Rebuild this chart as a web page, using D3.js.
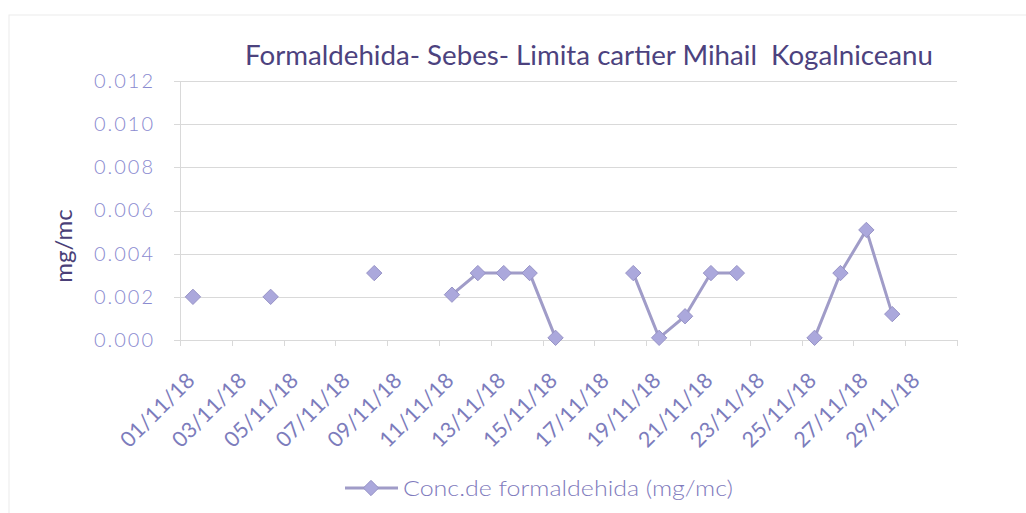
<!DOCTYPE html>
<html lang="ro">
	<head>
		<meta charset="utf-8">
		<title>Formaldehida - Sebes</title>
		<script type="text/javascript" src="https://cdn.jsdelivr.net/npm/d3@7"></script>
		<style type="text/css">
			body { margin: 0; background: #fff; }
			.grid line { stroke: #d9d9d9; shape-rendering: crispEdges; }
			.ylab text { font-family: Lato, sans-serif; font-weight: 300; font-size: 20px; letter-spacing: 2px; fill: #8a8ad0; }
			.xlab text { font-family: Lato, sans-serif; font-size: 21.5px; fill: #7c7cbc; }
		</style>
	</head>
	<body>
		<script type="text/javascript">

			// days of November 2018 with a measurement, and the measured values (mg/mc)
			var obsDays = [1, 4, 8, 11, 12, 13, 14, 15, 18, 19, 20, 21, 22, 25, 26, 27, 28];
			var conc = [0.002, 0.002, 0.0031, 0.0021, 0.0031, 0.0031, 0.0031, 0.0001, 0.0031, 0.0001,
						0.0011, 0.0031, 0.0031, 0.0001, 0.0031, 0.0051, 0.0012];
			var allDays = d3.range(1, 31);		// category axis, one slot per day
			var tickLabels = ["01/11/18", "03/11/18", "05/11/18", "07/11/18", "09/11/18", "11/11/18",
							  "13/11/18", "15/11/18", "17/11/18", "19/11/18", "21/11/18", "23/11/18",
							  "25/11/18", "27/11/18", "29/11/18"];
			var labelDays = [1, 3, 5, 7, 9, 11, 13, 15, 17, 19, 21, 23, 25, 27, 29];
			var yTicks = [0, 0.002, 0.004, 0.006, 0.008, 0.010, 0.012];

			var W = 1026, H = 513;
			var pLeft = 180, pRight = 957, pTop = 81, pBottom = 340;

			var svg = d3.select("body").append("svg")
				.attr("width", W)
				.attr("height", H);

			// faint chart border from the scan
			svg.append("rect")
				.attr("x", 9).attr("y", 15)
				.attr("width", W).attr("height", H)
				.attr("fill", "none")
				.attr("stroke", "#ececec");

			var x = d3.scaleBand().domain(allDays).range([pLeft, pRight]);
			var y = d3.scaleLinear().domain([0, 0.012]).range([pBottom, pTop]);

			// horizontal gridlines
			svg.append("g")
				.attr("class", "grid")
				.selectAll("line")
				.data(yTicks)
				.enter().append("line")
				.attr("x1", pLeft - 6).attr("x2", pRight)
				.attr("y1", function(d) { return Math.round(y(d)) + 0.5; })
				.attr("y2", function(d) { return Math.round(y(d)) + 0.5; });

			// left axis line
			svg.append("line")
				.attr("x1", pLeft + 0.5).attr("x2", pLeft + 0.5)
				.attr("y1", pTop).attr("y2", pBottom + 6)
				.attr("stroke", "#d9d9d9");

			// y tick labels
			var yAxis = d3.axisLeft(y).tickValues(yTicks).tickFormat(d3.format(".3f")).tickSize(0).tickPadding(25);
			svg.append("g")
				.attr("class", "ylab")
				.attr("transform", "translate(" + pLeft + ",0)")
				.call(yAxis)
				.call(function(g) { g.select(".domain").remove(); });

			// x tick marks between categories, every two days
			var tickDays = labelDays.concat([31]);
			svg.append("g")
				.selectAll("line")
				.data(tickDays)
				.enter().append("line")
				.attr("x1", function(d) { return Math.round(d > 30 ? pRight : x(d)) + 0.5; })
				.attr("x2", function(d) { return Math.round(d > 30 ? pRight : x(d)) + 0.5; })
				.attr("y1", pBottom).attr("y2", pBottom + 6)
				.attr("stroke", "#d9d9d9");

			// rotated date labels
			svg.append("g")
				.attr("class", "xlab")
				.selectAll("text")
				.data(labelDays)
				.enter().append("text")
				.attr("text-anchor", "end")
				.attr("transform", function(d) {
					return "translate(" + (x(d) + x.bandwidth() / 2 + 3) + ",382) rotate(-45)";
				})
				.text(function(d, i) { return tickLabels[i]; });

			// series: null on days without a measurement so the line breaks there
			var series = allDays.map(function(d) {
				var k = obsDays.indexOf(d);
				return { day: d, v: k < 0 ? null : conc[k] };
			});
			var cx = function(d) { return x(d.day) + x.bandwidth() / 2; };

			var line = d3.line()
				.defined(function(d) { return d.v !== null; })
				.x(cx)
				.y(function(d) { return y(d.v); });

			svg.append("path")
				.datum(series)
				.attr("d", line)
				.attr("fill", "none")
				.attr("stroke", "#a09cc8")
				.attr("stroke-width", 3);

			var diamond = d3.symbol().type(d3.symbolDiamond2).size(150);
			svg.append("g")
				.selectAll("path")
				.data(series.filter(function(d) { return d.v !== null; }))
				.enter().append("path")
				.attr("d", diamond)
				.attr("transform", function(d) { return "translate(" + cx(d) + "," + y(d.v) + ")"; })
				.attr("fill", "#aba8dc")
				.attr("stroke", "#9793c6")
				.attr("stroke-width", 1);

			// title
			svg.append("text")
				.attr("x", 245).attr("y", 65)
				.attr("textLength", 688)
				.attr("lengthAdjust", "spacingAndGlyphs")
				.attr("font-family", "Lato, sans-serif")
				.attr("font-size", "26px")
				.attr("fill", "#4c427e")
				.style("white-space", "pre")
				.text("Formaldehida- Sebes- Limita cartier Mihail  Kogalniceanu");

			// y axis title
			svg.append("text")
				.attr("transform", "translate(72,246) rotate(-90)")
				.attr("text-anchor", "middle")
				.attr("font-family", "Lato, sans-serif")
				.attr("font-size", "24px")
				.attr("fill", "#4a3f78")
				.text("mg/mc");

			// legend
			var lg = svg.append("g").attr("transform", "translate(345,488)");
			lg.append("line")
				.attr("x1", 0).attr("x2", 53).attr("y1", 0).attr("y2", 0)
				.attr("stroke", "#a09cc8").attr("stroke-width", 3);
			lg.append("path")
				.attr("d", diamond)
				.attr("transform", "translate(26,0)")
				.attr("fill", "#aba8dc")
				.attr("stroke", "#9793c6");
			lg.append("text")
				.attr("x", 58).attr("y", 8)
				.attr("textLength", 330)
				.attr("lengthAdjust", "spacingAndGlyphs")
				.attr("font-family", "Lato, sans-serif")
				.attr("font-weight", 300)
				.attr("font-size", "22px")
				.attr("fill", "#7f7bbd")
				.text("Conc.de formaldehida (mg/mc)");
		</script>
	</body>
</html>
